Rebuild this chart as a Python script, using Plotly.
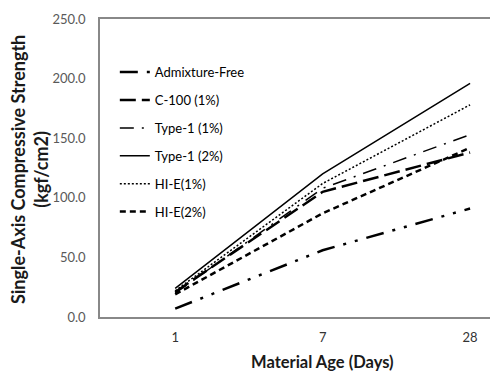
import plotly.graph_objects as go

ages = ["1", "7", "28"]
series_names = ["Admixture-Free", "C-100 (1%)", "Type-1 (1%)", "Type-1 (2%)", "HI-E(1%)", "HI-E(2%)"]
admixture_free = [7, 56, 91]
c100_1 = [21, 105, 138]
type1_1 = [20, 108, 153]
type1_2 = [24, 120, 196]
hie_1 = [22, 112, 178]
hie_2 = [19, 87, 142]
y_ticks = [0, 50, 100, 150, 200, 250]

values = [admixture_free, c100_1, type1_1, type1_2, hie_1, hie_2]
styles = [
    dict(width=2.5, dash="18px,9px,3px,9px,3px,9px"),
    dict(width=2.5, dash="16px,6px"),
    dict(width=1.5, dash="14px,8px,2px,8px"),
    dict(width=1.5, dash="solid"),
    dict(width=1.5, dash="2px,2px"),
    dict(width=2.5, dash="6px,4px"),
]

fig = go.Figure()
for i, (name, vals, st) in enumerate(zip(series_names, values, styles)):
    fig.add_trace(go.Scatter(x=ages, y=vals, name=name, mode="lines", legendgroup=f"g{i}",
                             line=dict(color="black", **st)))

font = "Lato, 'Open Sans', sans-serif"
fig.update_layout(
    width=490, height=374,
    margin=dict(l=100, r=0, t=19, b=57),
    paper_bgcolor="white", plot_bgcolor="white",
    font=dict(family=font, size=12, color="#404040"),
    showlegend=True,
    legend=dict(x=0.038, y=0.872, xanchor="left", yanchor="top",
                font=dict(family=font, size=13, color="black"),
                bgcolor="rgba(0,0,0,0)", tracegroupgap=8, itemwidth=30),
    xaxis=dict(type="category", range=[-0.51, 2.135], showgrid=False,
               showline=True, linecolor="#888888", linewidth=1.5, mirror=True,
               ticks="", ticklabelstandoff=8,
               tickfont=dict(family=font, size=13, color="#333333")),
    yaxis=dict(range=[0, 250], tickvals=y_ticks, tickformat=".1f", showgrid=False,
               showline=True, linecolor="#888888", linewidth=1.5, zeroline=False,
               ticks="", ticklabelstandoff=10,
               tickfont=dict(family=font, size=13, color="#595959")),
)
fig.add_annotation(text="<b>Single-Axis Compressive Strength<br>(kgf/cm2)</b>",
                   xref="paper", yref="paper", x=-0.182, y=0.493, xanchor="center", yanchor="middle",
                   textangle=-90, showarrow=False, align="center",
                   font=dict(family=font, size=18, color="#1a1a1a"))
fig.add_annotation(text="<b>Material Age (Days)</b>",
                   xref="paper", yref="paper", x=0.57, y=-0.11, xanchor="center", yanchor="top",
                   showarrow=False, font=dict(family=font, size=16.5, color="#1a1a1a"))
fig.write_html("out.html")
